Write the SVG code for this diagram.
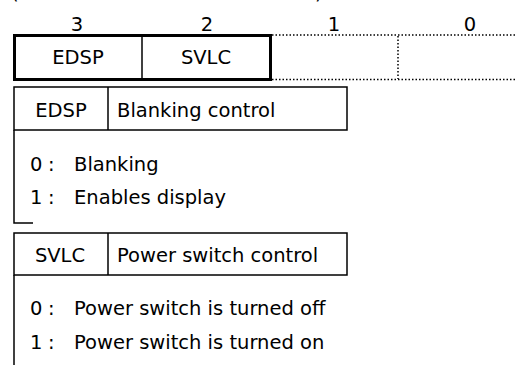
<svg xmlns="http://www.w3.org/2000/svg" width="515" height="365" viewBox="0 0 515 365">
<style>
text{font-family:"DejaVu Sans","Liberation Sans",sans-serif;font-size:19.5px;fill:#000}
.m{text-anchor:middle}
.thin{fill:none;stroke:#000;stroke-width:1.5}
.thick{fill:none;stroke:#000;stroke-width:3}
.dot{fill:none;stroke:#000;stroke-width:1.5;stroke-dasharray:1.5 2}
</style>
<rect width="515" height="365" fill="#fff"/>
<g id="clipped-title">
<text x="11" y="-1">(</text>
<text x="315" y="-1">)</text>
</g>
<g id="bit-numbers">
<text class="m" x="77" y="31">3</text>
<text class="m" x="207" y="31">2</text>
<text class="m" x="334" y="31">1</text>
<text class="m" x="470" y="31">0</text>
</g>
<g id="register">
<path class="dot" d="M272 35H515M272 79.5H515M398 36V79"/>
<rect class="thick" x="14.5" y="35.5" width="256" height="44"/>
<line class="thin" x1="142" y1="36" x2="142" y2="79"/>
<text class="m" x="78" y="64">EDSP</text>
<text class="m" x="206" y="64">SVLC</text>
</g>
<g id="edsp-table">
<rect class="thin" x="14" y="87" width="333" height="43"/>
<line class="thin" x1="108" y1="87" x2="108" y2="130"/>
<path class="thin" d="M14 130V223H33"/>
<text class="m" x="61" y="117">EDSP</text>
<text x="117" y="117">Blanking control</text>
<text x="30" y="171">0</text><text x="48" y="171">:</text><text x="74" y="171">Blanking</text>
<text x="30" y="204">1</text><text x="48" y="204">:</text><text x="74" y="204">Enables display</text>
</g>
<g id="svlc-table">
<rect class="thin" x="14" y="233" width="333" height="42"/>
<line class="thin" x1="108" y1="233" x2="108" y2="275"/>
<path class="thin" d="M14 275V365"/>
<text class="m" x="60" y="262">SVLC</text>
<text x="117" y="262">Power switch control</text>
<text x="30" y="315">0</text><text x="48" y="315">:</text><text x="74" y="315">Power switch is turned off</text>
<text x="30" y="349">1</text><text x="48" y="349">:</text><text x="74" y="349">Power switch is turned on</text>
</g>
</svg>
